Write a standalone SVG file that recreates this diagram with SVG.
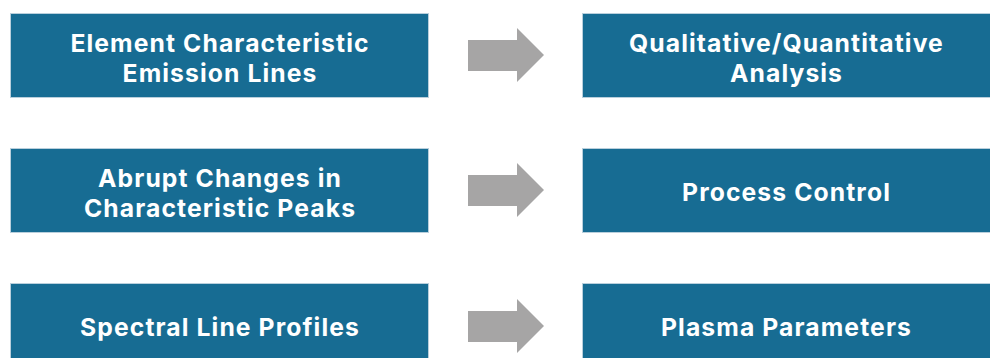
<svg xmlns="http://www.w3.org/2000/svg" width="990" height="358" viewBox="0 0 990 358">
  <style>
    .box { fill: #176c93; stroke: #b9cfdc; stroke-width: 1; }
    .lbl { fill: #ffffff; font-family: Inter, "Open Sans", "Liberation Sans", sans-serif; font-weight: bold; font-size: 24.7px; letter-spacing: 1.1px; text-anchor: middle; }
    .arrow { fill: #a6a5a5; }
  </style>
  <defs>
    <polygon id="fat-arrow" class="arrow" points="468,40 517,40 517,28 544,55 517,82 517,71 468,71"/>
  </defs>
  <rect width="990" height="358" fill="#ffffff"/>

  <g id="node-emission">
    <rect class="box" x="10.5" y="13.5" width="418" height="84"/>
    <text class="lbl"><tspan x="220" y="52">Element Characteristic</tspan><tspan x="220" y="82">Emission Lines</tspan></text>
  </g>
  <g id="node-analysis">
    <rect class="box" x="582.5" y="13.5" width="408" height="84"/>
    <text class="lbl"><tspan x="786.5" y="52">Qualitative/Quantitative</tspan><tspan x="786.5" y="82">Analysis</tspan></text>
  </g>

  <g id="node-peaks">
    <rect class="box" x="10.5" y="148.5" width="418" height="84"/>
    <text class="lbl"><tspan x="220" y="187">Abrupt Changes in</tspan><tspan x="220" y="217">Characteristic Peaks</tspan></text>
  </g>
  <g id="node-process">
    <rect class="box" x="582.5" y="148.5" width="408" height="84"/>
    <text class="lbl" x="786.5" y="201">Process Control</text>
  </g>

  <g id="node-profiles">
    <rect class="box" x="10.5" y="283.5" width="418" height="84"/>
    <text class="lbl" x="220" y="336">Spectral Line Profiles</text>
  </g>
  <g id="node-plasma">
    <rect class="box" x="582.5" y="283.5" width="408" height="84"/>
    <text class="lbl" x="786.5" y="336">Plasma Parameters</text>
  </g>

  <g id="connectors">
    <use href="#fat-arrow"/>
    <use href="#fat-arrow" transform="translate(0,135)"/>
    <use href="#fat-arrow" transform="translate(0,271)"/>
  </g>
</svg>
